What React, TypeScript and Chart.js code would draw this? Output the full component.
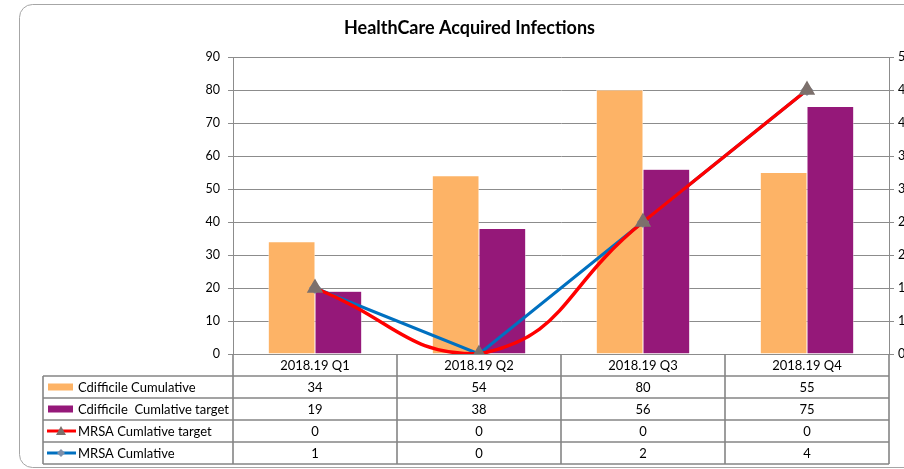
import React, { useEffect, useRef } from "react";
import { Chart, registerables } from "chart.js";

Chart.register(...registerables);

const categories = ["2018.19 Q1", "2018.19 Q2", "2018.19 Q3", "2018.19 Q4"];
const cdiffCumulative = [34, 54, 80, 55];
const cdiffTarget = [19, 38, 56, 75];
const mrsaTargetPlotted = [1, 0, 2, 4];
const mrsaTargetTable = ["0", "0", "0", "0"];
const mrsaCumulative = [1, 0, 2, 4];
const seriesNames = [
  "Cdifficile Cumulative",
  "Cdifficile  Cumlative target",
  "MRSA Cumlative target",
  "MRSA Cumlative",
];
const leftTicksMax = 90;
const rightTicksMax = 4.5;

const FONT = "Lato, 'Liberation Sans', sans-serif";
const ORANGE = "#FDB366";
const PURPLE = "#951879";
const RED = "#FF0000";
const BLUE = "#0070C0";
const TRI = "#7C706C";
const DIA = "#7F8FA9";
const GRID = "#8C8C8C";
const TABLE_LINE = "#858585";

const CANVAS_W = 939;
const CANVAS_H = 469;

const framePlugin = {
  id: "frame",
  beforeDraw(chart: any) {
    const ctx = chart.ctx;
    ctx.save();
    ctx.fillStyle = "#fff";
    ctx.fillRect(0, 0, chart.width, chart.height);
    ctx.strokeStyle = "#A6A6A6";
    ctx.lineWidth = 1;
    const x0 = 19.5, y0 = 4.5, x1 = 920.5, y1 = 467.5, r = 13;
    ctx.beginPath();
    ctx.moveTo(x0 + r, y0);
    ctx.lineTo(x1 - r, y0);
    ctx.arcTo(x1, y0, x1, y0 + r, r);
    ctx.lineTo(x1, y1 - r);
    ctx.arcTo(x1, y1, x1 - r, y1, r);
    ctx.lineTo(x0 + r, y1);
    ctx.arcTo(x0, y1, x0, y1 - r, r);
    ctx.lineTo(x0, y0 + r);
    ctx.arcTo(x0, y0, x0 + r, y0, r);
    ctx.stroke();
    ctx.restore();
  },
};

const tablePlugin = {
  id: "dataTable",
  afterDraw(chart: any) {
    const ctx = chart.ctx;
    const { left, right, bottom } = chart.chartArea;
    const n = categories.length;
    const colW = (right - left) / n;
    const rowH = 22;
    const headBottom = bottom + 22;
    const tableLeft = 43;
    const tableBottom = headBottom + 4 * rowH;
    ctx.save();
    ctx.strokeStyle = TABLE_LINE;
    ctx.lineWidth = 1.6;
    ctx.beginPath();
    for (let i = 0; i <= 4; i++) {
      const y = headBottom + i * rowH;
      ctx.moveTo(tableLeft, y);
      ctx.lineTo(right, y);
    }
    for (let k = 0; k <= n; k++) {
      const x = left + k * colW;
      ctx.moveTo(x, bottom);
      ctx.lineTo(x, tableBottom);
    }
    ctx.moveTo(tableLeft, headBottom);
    ctx.lineTo(tableLeft, tableBottom);
    ctx.stroke();

    const rows = [
      cdiffCumulative.map(String),
      cdiffTarget.map(String),
      mrsaTargetTable,
      mrsaCumulative.map(String),
    ];
    ctx.fillStyle = "#000";
    ctx.font = `13px ${FONT}`;
    ctx.textAlign = "center";
    ctx.textBaseline = "middle";
    rows.forEach((row, r) => {
      const cy = headBottom + r * rowH + rowH / 2 + 0.5;
      row.forEach((v, c) => {
        const cx = chart.scales.x.getPixelForValue(c);
        ctx.fillText(v, cx, cy);
      });
    });

    // legend keys
    ctx.textAlign = "left";
    seriesNames.forEach((name, r) => {
      const cy = headBottom + r * rowH + rowH / 2;
      if (r === 0 || r === 1) {
        ctx.fillStyle = r === 0 ? ORANGE : PURPLE;
        ctx.fillRect(48, cy - 3.5, 25, 7);
      } else {
        ctx.strokeStyle = r === 2 ? RED : BLUE;
        ctx.lineWidth = 3;
        ctx.beginPath();
        ctx.moveTo(47, cy);
        ctx.lineTo(76, cy);
        ctx.stroke();
        ctx.fillStyle = r === 2 ? TRI : DIA;
        ctx.beginPath();
        if (r === 2) {
          ctx.moveTo(61, cy - 5);
          ctx.lineTo(66, cy + 4);
          ctx.lineTo(56, cy + 4);
        } else {
          ctx.moveTo(61, cy - 4);
          ctx.lineTo(65, cy);
          ctx.lineTo(61, cy + 4);
          ctx.lineTo(57, cy);
        }
        ctx.closePath();
        ctx.fill();
      }
      ctx.fillStyle = "#000";
      ctx.fillText(name, 78, cy + 0.5);
    });
    ctx.restore();
  },
};

export default function App() {
  const ref = useRef<HTMLCanvasElement | null>(null);
  useEffect(() => {
    if (!ref.current) return;
    const chart = new Chart(ref.current, {
      type: "bar",
      data: {
        labels: categories,
        datasets: [
          {
            type: "line",
            label: seriesNames[2],
            data: mrsaTargetPlotted,
            yAxisID: "y1",
            borderColor: RED,
            borderWidth: 3.5,
            tension: 0.5,
            pointStyle: "triangle",
            pointRadius: 6,
            pointBackgroundColor: TRI,
            pointBorderColor: TRI,
            order: 1,
          } as any,
          {
            type: "line",
            label: seriesNames[3],
            data: mrsaCumulative,
            yAxisID: "y1",
            borderColor: BLUE,
            borderWidth: 3,
            tension: 0,
            pointStyle: "rectRot",
            pointRadius: 4,
            pointBackgroundColor: DIA,
            pointBorderColor: DIA,
            order: 2,
          } as any,
          {
            type: "bar",
            label: seriesNames[0],
            data: cdiffCumulative,
            backgroundColor: ORANGE,
            borderColor: "#FFFFFF",
            borderWidth: 0.5,
            categoryPercentage: 0.57,
            barPercentage: 1,
            order: 3,
          },
          {
            type: "bar",
            label: seriesNames[1],
            data: cdiffTarget,
            backgroundColor: PURPLE,
            borderColor: "#FFFFFF",
            borderWidth: 0.5,
            categoryPercentage: 0.57,
            barPercentage: 1,
            order: 3,
          },
        ],
      },
      options: {
        responsive: false,
        animation: false,
        devicePixelRatio: 1,
        layout: { padding: 0 },
        plugins: {
          legend: { display: false },
          tooltip: { enabled: false },
          title: {
            display: true,
            text: "HealthCare Acquired Infections",
            color: "#000",
            font: { family: FONT, size: 18, weight: "bold" },
            padding: { top: 17.5, bottom: 17.9 },
          },
        },
        scales: {
          x: {
            grid: { display: false, drawTicks: false },
            border: { display: false },
            ticks: {
              color: "#000",
              font: { family: FONT, size: 13 },
              padding: 4,
              maxRotation: 0,
            },
            afterFit(scale: any) {
              scale.height = 115;
            },
          },
          y: {
            position: "left",
            min: 0,
            max: leftTicksMax,
            ticks: {
              stepSize: 10,
              color: "#000",
              font: { family: FONT, size: 12.5 },
              padding: 8,
            },
            grid: { color: GRID, tickLength: 5, lineWidth: 1 },
            border: { color: GRID, width: 1 },
            afterFit(scale: any) {
              scale.width = 233;
            },
          },
          y1: {
            position: "right",
            min: 0,
            max: rightTicksMax,
            ticks: {
              stepSize: 0.5,
              color: "#000",
              font: { family: FONT, size: 12.5 },
              padding: 4,
              callback: (v: any) => String(Math.round(Number(v))),
            },
            grid: { drawOnChartArea: false, color: GRID, tickLength: 5 },
            border: { color: GRID, width: 1 },
            afterFit(scale: any) {
              scale.width = CANVAS_W - 889;
            },
          },
        },
      },
      plugins: [framePlugin, tablePlugin],
    });
    return () => chart.destroy();
  }, []);
  return (
    <div
      style={{
        position: "fixed",
        left: 0,
        top: 0,
        width: 904,
        height: CANVAS_H,
        overflow: "hidden",
      }}
    >
      <canvas
        ref={ref}
        width={CANVAS_W}
        height={CANVAS_H}
        style={{ width: CANVAS_W, height: CANVAS_H, display: "block" }}
      />
    </div>
  );
}
